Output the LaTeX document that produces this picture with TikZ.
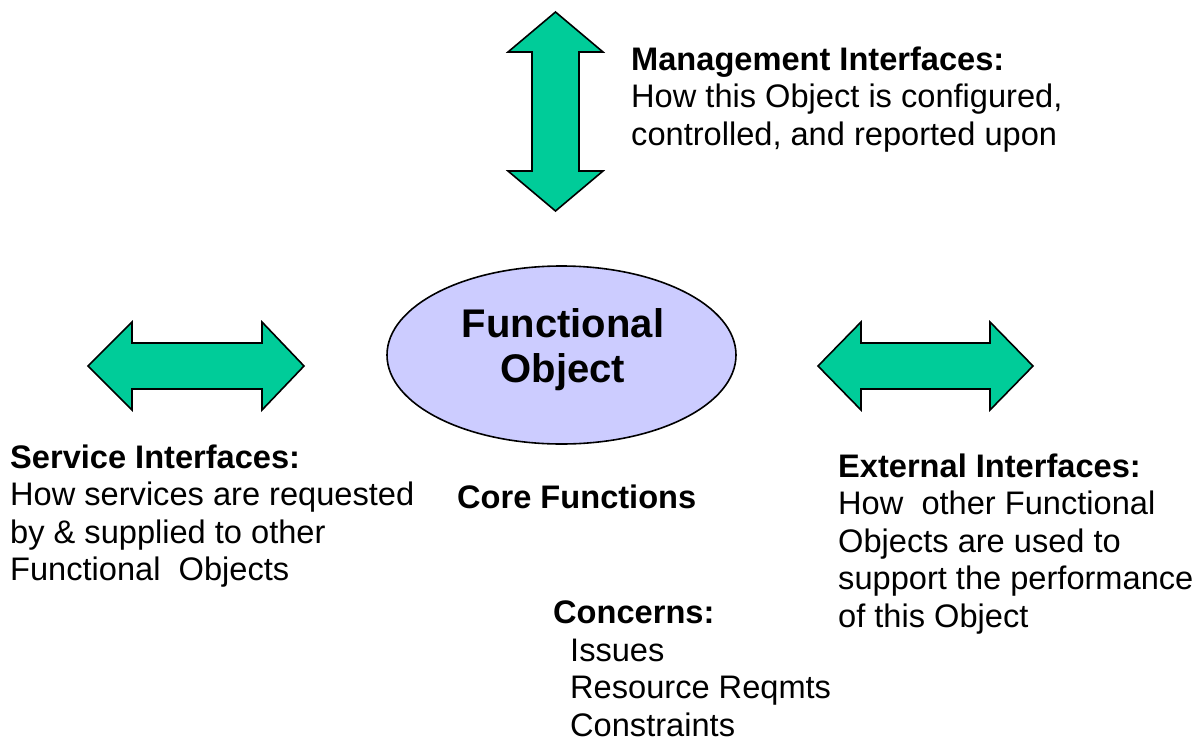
\documentclass[tikz,border=0pt]{standalone}
\usepackage{fontspec}
\setmainfont{Liberation Sans}
\usetikzlibrary{shapes.geometric}
\definecolor{arrowgreen}{HTML}{00CC99}
\definecolor{objfill}{HTML}{CCCCFF}
\tikzset{
  blockarrow/.style={draw=black, line width=1.6pt, fill=arrowgreen, line join=miter},
  objellipse/.style={ellipse, draw=black, line width=1.6pt, fill=objfill, inner sep=0pt},
  txt/.style={anchor=base west, inner sep=0pt, font=\fontsize{32.6}{37.5}\selectfont},
  ctxt/.style={anchor=base, inner sep=0pt, font=\fontsize{40}{45}\selectfont\bfseries}
}
\begin{document}
\begin{tikzpicture}[x=1pt, y=-1pt]
\useasboundingbox (0,0) rectangle (1202,742);

% vertical management arrow
\draw[blockarrow] (555.5,12) -- (603,52) -- (579,52) -- (579,171) -- (603,171)
  -- (555.5,211) -- (508,171) -- (532,171) -- (532,52) -- (508,52) -- cycle;

% left service arrow
\draw[blockarrow] (88,366) -- (132,322) -- (132,343) -- (262,343) -- (262,322)
  -- (304,366) -- (262,410) -- (262,389) -- (132,389) -- (132,410) -- cycle;

% right external arrow
\draw[blockarrow] (818,366) -- (861,322) -- (861,343) -- (990,343) -- (990,322)
  -- (1033,366) -- (990,410) -- (990,389) -- (861,389) -- (861,410) -- cycle;

% functional object
\node[objellipse, minimum width=349pt, minimum height=178pt] (fo) at (561.5,355) {};
\node[ctxt] (fotext) at (563,337) {\vtop{\baselineskip=45pt\halign{\hfil#\hfil\cr Functional\cr Object\cr}}};

% management text
\node[txt] (mgmt) at (631,70) {\vtop{\baselineskip=37.5pt
  \hbox{\bfseries Management Interfaces:}
  \hbox{How this Object is configured,}
  \hbox{controlled, and reported upon}}};

% service text
\node[txt] (svc) at (10,468) {\vtop{\baselineskip=37.5pt
  \hbox{\bfseries Service Interfaces:}
  \hbox{How services are requested}
  \hbox{by \& supplied to other}
  \hbox{Functional\ \ Objects}}};

% external text
\node[txt] (ext) at (838,477) {\vtop{\baselineskip=37.5pt
  \hbox{\bfseries External Interfaces:}
  \hbox{How\ \ other Functional}
  \hbox{Objects are used to}
  \hbox{support the performance}
  \hbox{of this Object}}};

% core functions
\node[txt, font=\fontsize{32.6}{37.5}\selectfont\bfseries] (core) at (457,508) {Core Functions};

% concerns
\node[txt, font=\fontsize{32.6}{37.5}\selectfont\bfseries] (conc) at (553,623) {Concerns:};
\node[txt] (concitems) at (570,661) {\vtop{\baselineskip=37.5pt
  \hbox{Issues}
  \hbox{Resource Reqmts}
  \hbox{Constraints}}};
\end{tikzpicture}
\end{document}
